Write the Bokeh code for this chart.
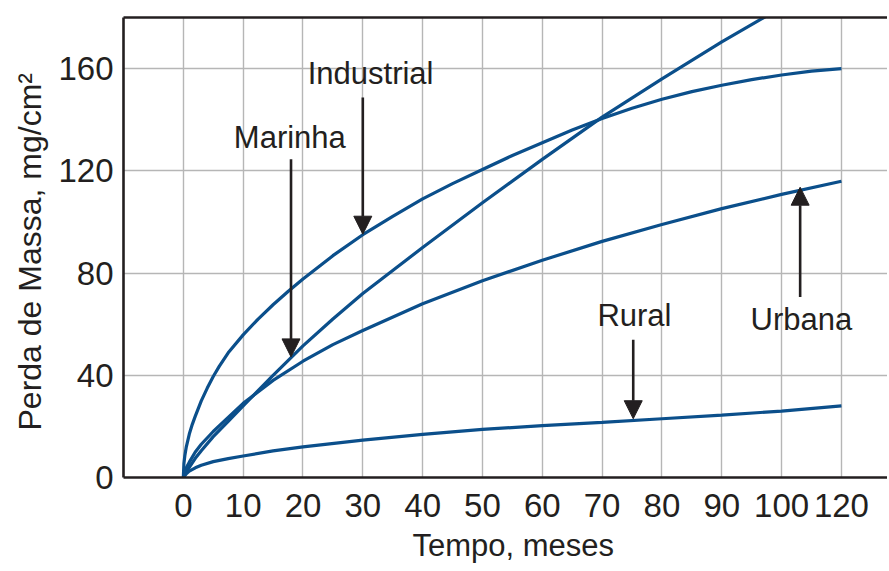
from bokeh.plotting import figure
from bokeh.models import Range1d, FixedTicker, LinearAxis, Label, Arrow, NormalHead, Title
from bokeh.embed import file_html
from bokeh.resources import INLINE

# ---------------- data ----------------
# x positions are in axis units; the last grid line (position 110) is labelled "120" in the original
industrial_x = [0, 0.1, 0.25, 0.5, 1, 1.5, 2, 3, 4, 5, 6, 7.5, 10, 12.5, 15, 17.5, 20, 25, 30, 35,
                40, 45, 50, 55, 60, 65, 70, 75, 80, 85, 90, 95, 100, 105, 110]
industrial_y = [0, 5.5, 8.5, 12, 17, 20.8, 24, 30, 35, 39.5, 43.5, 48.8, 55.8, 62, 67.6, 72.8, 77.7, 86.8, 95, 102.2,
                109, 115, 120.5, 126, 131, 136, 140.5, 144.5, 148, 151, 153.5, 155.7, 157.5, 159, 160]

marinha_x = [0, 0.5, 1, 2, 3, 5, 7.5, 10, 15, 20, 25, 30, 40, 50, 60, 70, 80, 90, 100]
marinha_y = [0, 2.2, 4, 7.5, 10.5, 16, 22, 28, 40, 51.5, 62, 72, 90, 107.5, 124.5, 141, 156, 170.5, 184]

urbana_x = [0, 0.5, 1, 2, 3, 5, 7.5, 10, 15, 20, 25, 30, 40, 50, 60, 70, 80, 90, 100, 110]
urbana_y = [0, 3.8, 6, 10, 13, 18, 23.5, 29, 38, 45.5, 52, 57.5, 68, 77, 85, 92.4, 99, 105.2, 110.8, 115.9]

rural_x = [0, 0.5, 1, 2, 3, 5, 7.5, 10, 15, 20, 30, 40, 50, 60, 70, 80, 90, 100, 110]
rural_y = [0, 1.5, 2.5, 3.8, 4.8, 6.2, 7.4, 8.4, 10.4, 12, 14.6, 16.9, 18.8, 20.3, 21.6, 23, 24.4, 26, 28]

x_ticks = [0, 10, 20, 30, 40, 50, 60, 70, 80, 90, 100, 110]
x_tick_labels = ["0", "10", "20", "30", "40", "50", "60", "70", "80", "90", "100", "120"]
y_ticks = [0, 40, 80, 120, 160]

label_texts = ["Industrial", "Marinha", "Rural", "Urbana"]
label_x = [31.3, 17.8, 75.4, 103.3]
label_y = [158.0, 133.0, 63.5, 62.0]

arrow_x = [30, 18, 75.2, 103.1]
arrow_y_start = [148.7, 124.5, 53.9, 70.6]
arrow_y_end = [95.2, 47.2, 23.0, 113.6]

x_title = "Tempo, meses"
y_title = "Perda de Massa, mg/cm²"

# ---------------- style ----------------
FONT = "Liberation Sans"
DARK = "#231f20"
BLUE = "#0b4f8b"
GRID = "#b6b6b6"

p = figure(width=887, height=569, output_backend="svg", toolbar_location=None,
           x_range=Range1d(-10, 117.7), y_range=Range1d(0, 180),
           min_border_left=123, min_border_right=0, min_border_top=17, min_border_bottom=90)
p.outline_line_color = None
p.background_fill_color = "white"

for xs, ys in [(industrial_x, industrial_y), (marinha_x, marinha_y),
               (urbana_x, urbana_y), (rural_x, rural_y)]:
    p.line(xs, ys, line_color=BLUE, line_width=3.2)

# axes
p.xaxis.ticker = FixedTicker(ticks=x_ticks)
p.xaxis.major_label_overrides = {t: l for t, l in zip(x_ticks, x_tick_labels)}
p.yaxis.ticker = FixedTicker(ticks=y_ticks)
for ax in (p.xaxis[0], p.yaxis[0]):
    ax.axis_line_color = DARK
    ax.axis_line_width = 2.6
    ax.major_tick_in = 0
    ax.major_tick_out = 0
    ax.minor_tick_in = 0
    ax.minor_tick_out = 0
    ax.major_label_text_font = FONT
    ax.major_label_text_font_size = "33px"
    ax.major_label_text_color = DARK
p.xaxis.major_label_standoff = 16
p.yaxis.major_label_standoff = 10

top_axis = LinearAxis(ticker=FixedTicker(ticks=[]), major_tick_in=0, major_tick_out=0,
                      minor_tick_in=0, minor_tick_out=0,
                      major_label_text_font_size="0px", major_label_standoff=0,
                      axis_line_color=DARK, axis_line_width=2.6)
p.add_layout(top_axis, "above")

p.xgrid.ticker = FixedTicker(ticks=x_ticks)
p.ygrid.ticker = FixedTicker(ticks=y_ticks)
p.grid.grid_line_color = GRID
p.grid.grid_line_width = 1.4

# axis titles
p.add_layout(Title(text=x_title, align="left", offset=289, standoff=13,
                   text_font=FONT, text_font_size="31px", text_font_style="normal",
                   text_color=DARK), "below")
p.add_layout(Title(text=y_title, align="left", offset=47, standoff=16,
                   text_font=FONT, text_font_size="32px", text_font_style="normal",
                   text_color=DARK), "left")

# annotations
for t, lx, ly in zip(label_texts, label_x, label_y):
    p.add_layout(Label(x=lx, y=ly, text=t, text_align="center", text_baseline="alphabetic",
                       text_font=FONT, text_font_size="31px", text_color=DARK))

for ax_, y0, y1 in zip(arrow_x, arrow_y_start, arrow_y_end):
    p.add_layout(Arrow(x_start=ax_, y_start=y0, x_end=ax_, y_end=y1,
                       line_color=DARK, line_width=2.6,
                       end=NormalHead(size=18, fill_color=DARK, line_color=DARK, line_width=1)))

open("out.html", "w").write(file_html(p, INLINE))
